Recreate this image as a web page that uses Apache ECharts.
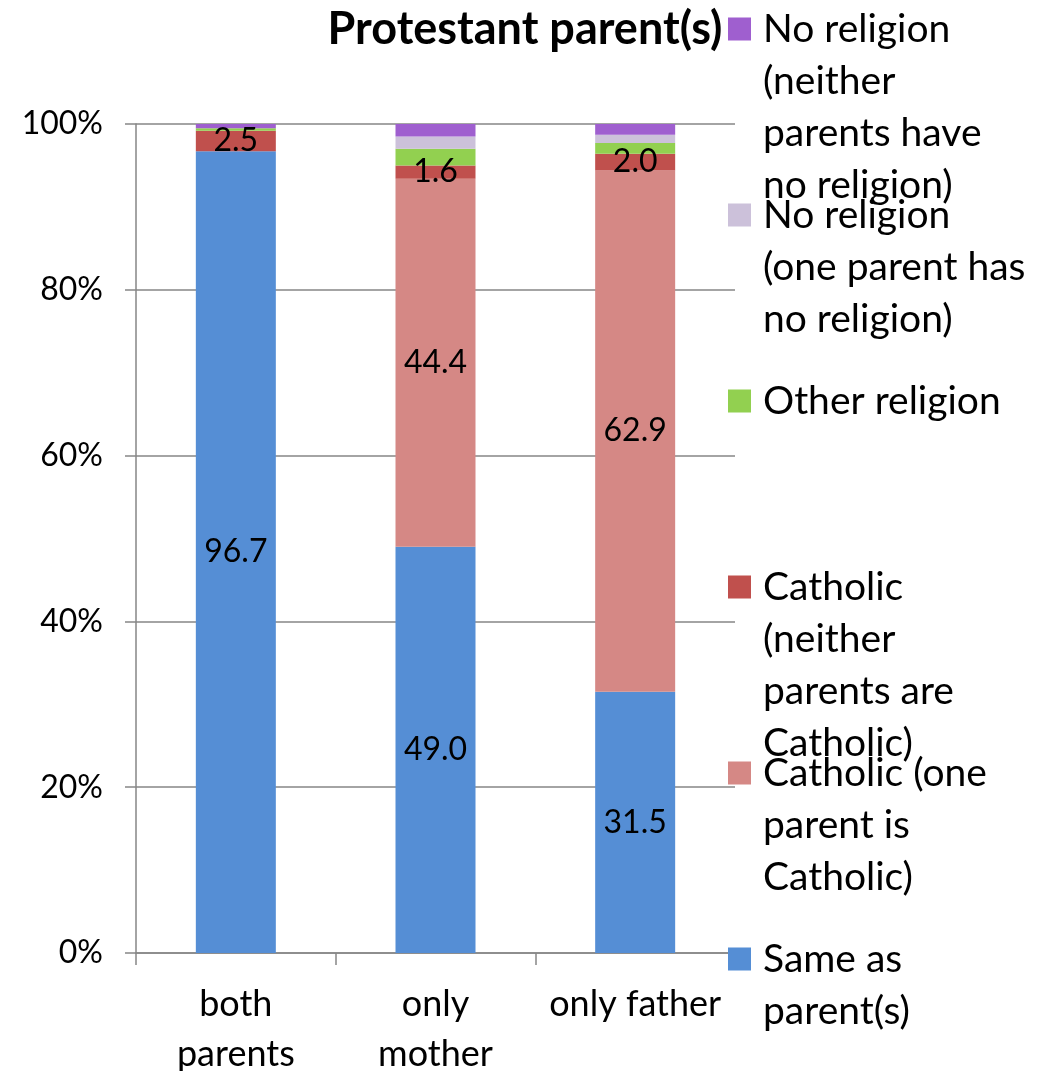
<!DOCTYPE html>
<html>
<head>
<meta charset="utf-8">
<script src="https://cdn.jsdelivr.net/npm/echarts@6/dist/echarts.min.js"></script>
<style>
  html, body { margin: 0; padding: 0; background: #fff; }
  #chart { width: 1050px; height: 1071px; }
</style>
</head>
<body>
<div id="chart"></div>
<script>
// Categories (which parent(s) are Protestant)
const categories = ['both\nparents', 'only\nmother', 'only father'];

// Share of children by religion, in percent
const sameAsParents = [96.7, 49.0, 31.5];
const catholicOneParent = [0, 44.4, 62.9];
const catholicNeitherParent = [2.5, 1.6, 2.0];
const otherReligion = [0.3, 2.0, 1.3];
const noReligionOneParent = [0, 1.5, 1.0];
const noReligionNeitherParent = [0.5, 1.5, 1.3];

// Series names and their wrapped legend text
const seriesNames = [
  'Same as parent(s)',
  'Catholic (one parent is Catholic)',
  'Catholic (neither parents are Catholic)',
  'Other religion',
  'No religion (one parent has no religion)',
  'No religion (neither parents have no religion)'
];
const legendText = [
  'Same as\nparent(s)',
  'Catholic (one\nparent is\nCatholic)',
  'Catholic\n(neither\nparents are\nCatholic)',
  'Other religion',
  'No religion\n(one parent has\nno religion)',
  'No religion\n(neither\nparents have\nno religion)'
];
const yTicks = [0, 20, 40, 60, 80, 100];

const FONT = 'Lato, "Open Sans", sans-serif';
const colors = ['#558ED5', '#D58885', '#C0504D', '#92D050', '#CCC1DA', '#9F5FCF'];
const values = [sameAsParents, catholicOneParent, catholicNeitherParent,
                otherReligion, noReligionOneParent, noReligionNeitherParent];
const labelled = [true, true, true, false, false, false];

const LINE_H = 52;
const SQ = 23;

// Legend icon: a square beside the first text line, inside a box as tall as the text block
function iconPath(lines) {
  const h = lines * LINE_H;
  const y0 = LINE_H / 2 - SQ / 2;
  return 'path://M0,0h0.01v0.01h-0.01z' +
    'M0,' + y0 + 'h' + SQ + 'v' + SQ + 'h-' + SQ + 'z' +
    'M' + (SQ - 0.01) + ',' + (h - 0.01) + 'h0.01v0.01h-0.01z';
}

// legend items, top to bottom
const legendOrder = [5, 4, 3, 2, 1, 0];
const legends = legendOrder.map(function (si, k) {
  const lines = legendText[si].split('\n').length;
  const firstLineCenter = 29 + k * 186;
  return {
    orient: 'vertical',
    left: 728,
    top: firstLineCenter - LINE_H / 2,
    padding: 0,
    itemWidth: SQ,
    itemHeight: lines * LINE_H,
    itemGap: 0,
    selectedMode: false,
    icon: iconPath(lines),
    data: [seriesNames[si]],
    formatter: function () { return legendText[si]; },
    textStyle: {
      fontFamily: FONT, fontSize: 39, color: '#000',
      lineHeight: LINE_H, padding: [0, 0, 0, 7]
    }
  };
});

const series = values.map(function (vals, i) {
  return {
    name: seriesNames[i],
    type: 'bar',
    stack: 'total',
    barWidth: 80,
    data: vals,
    itemStyle: { color: colors[i] },
    label: {
      show: labelled[i],
      position: 'inside',
      fontFamily: FONT,
      fontSize: 32,
      color: '#000',
      formatter: function (p) { return p.value > 0 ? p.value.toFixed(1) : ''; }
    }
  };
});

const chart = echarts.init(document.getElementById('chart'), null, { renderer: 'canvas' });
chart.setOption({
  animation: false,
  backgroundColor: '#fff',
  title: {
    text: 'Protestant parent(s)',
    left: 'center',
    top: 7,
    padding: 0,
    textStyle: { fontFamily: FONT, fontSize: 45, fontWeight: 'bold', color: '#000' }
  },
  legend: legends,
  grid: { left: 136, right: 315, top: 124, bottom: 118, containLabel: false, outerBoundsMode: 'none' },
  xAxis: {
    type: 'category',
    data: categories,
    axisLine: { show: true, lineStyle: { color: '#868686', width: 1.5 } },
    axisTick: { show: true, length: 12, alignWithLabel: false, lineStyle: { color: '#868686', width: 1.5 } },
    axisLabel: { fontFamily: FONT, fontSize: 36, color: '#000', lineHeight: 50, margin: 26, interval: 0 }
  },
  yAxis: {
    type: 'value',
    min: 0,
    max: 100,
    interval: 20,
    axisLine: { show: true, lineStyle: { color: '#868686', width: 1.5 } },
    axisTick: { show: true, length: 11, lineStyle: { color: '#868686', width: 1.5 } },
    splitLine: { show: true, lineStyle: { color: '#868686', width: 1.5 } },
    axisLabel: {
      fontFamily: FONT, fontSize: 32, color: '#000', margin: 33,
      formatter: function (v) { return yTicks.indexOf(v) >= 0 ? v + '%' : ''; }
    }
  },
  series: series
});
</script>
</body>
</html>
